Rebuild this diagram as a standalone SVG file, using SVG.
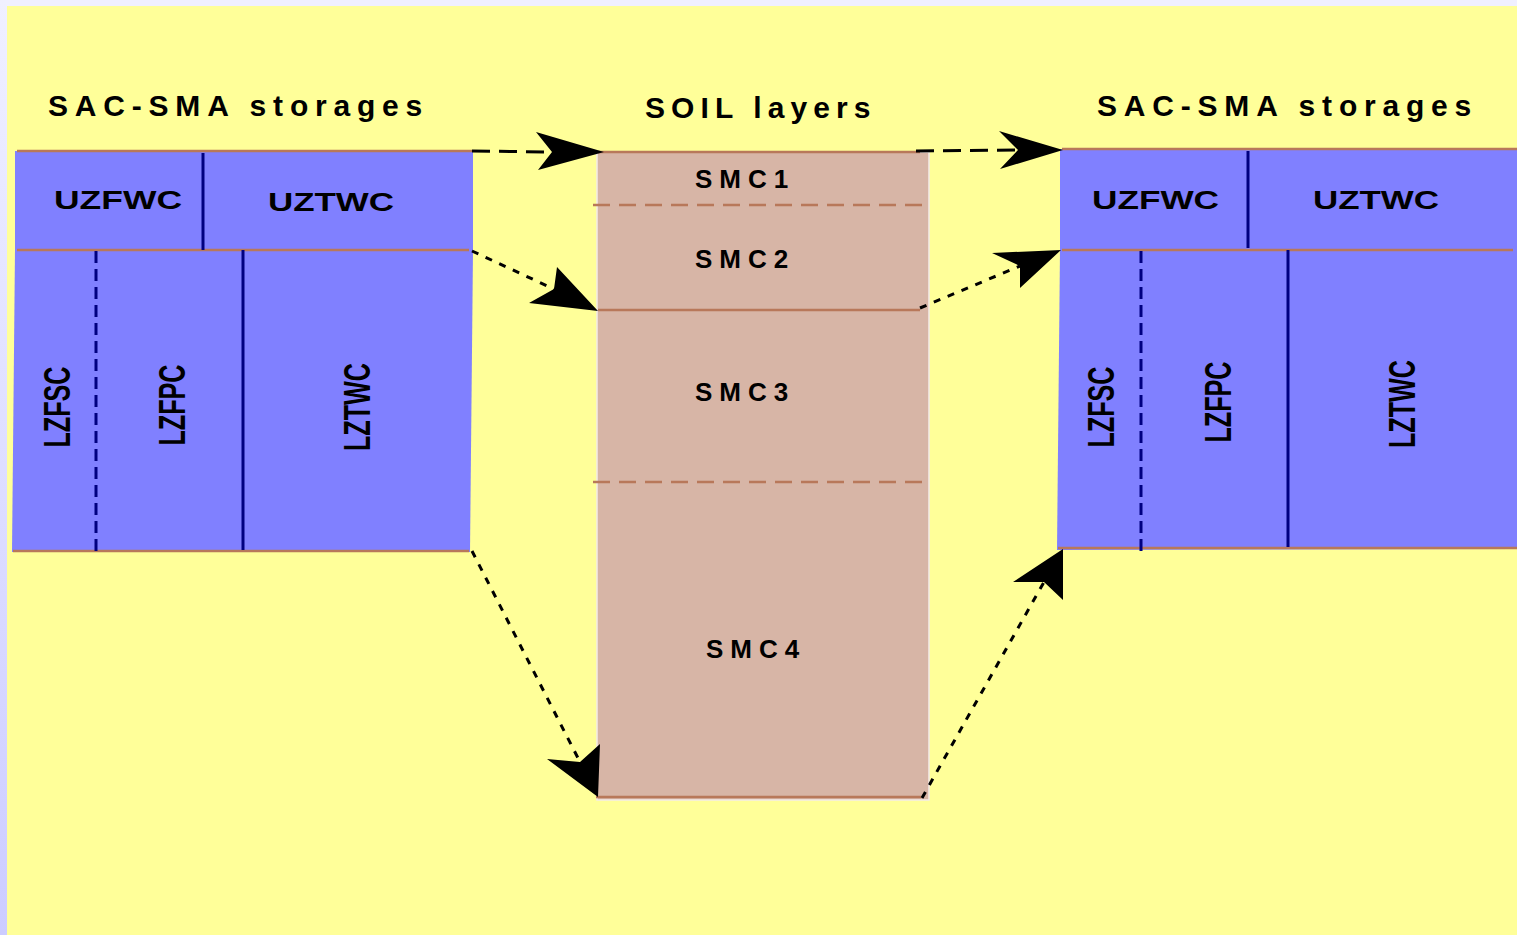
<svg xmlns="http://www.w3.org/2000/svg" width="1517" height="935" viewBox="0 0 1517 935">
  <style>
    .title { font-family: "Liberation Sans", Arial, sans-serif; font-weight: bold; font-size: 30px; fill: #000; }
    .smc { font-family: "Liberation Sans", Arial, sans-serif; font-weight: bold; font-size: 26px; fill: #000; letter-spacing: 7px; }
    .uz { font-family: "Liberation Sans", Arial, sans-serif; font-weight: bold; font-size: 26px; fill: #000; }
    .lz { font-family: "Liberation Sans", Arial, sans-serif; font-weight: bold; font-size: 37px; fill: #000; }
    .store { fill: #8080ff; }
    .soil { fill: #d7b5a6; stroke: #f4ece8; stroke-width: 1.5; }
    .rim { stroke: #b8785a; stroke-width: 2.5; fill: none; }
    .rimdash { stroke: #b8785a; stroke-width: 2.5; fill: none; stroke-dasharray: 17 9; }
    .wall { stroke: #000080; stroke-width: 3; fill: none; }
    .walldash { stroke: #000080; stroke-width: 3; fill: none; stroke-dasharray: 12 6; }
    .flow { stroke: #000; stroke-width: 3; fill: none; stroke-dasharray: 18 9; }
    .seep { stroke: #000; stroke-width: 3; fill: none; stroke-dasharray: 7 8; }
    .head { fill: #000; }
  </style>
  <defs>
    <linearGradient id="edge" x1="0" y1="0" x2="0" y2="1">
      <stop offset="0" stop-color="#f0f0ff"/>
      <stop offset="1" stop-color="#ccccff"/>
    </linearGradient>
  </defs>

  <!-- page background -->
  <rect x="0" y="0" width="1517" height="935" fill="#f0f0ff"/>
  <rect x="0" y="0" width="7" height="935" fill="url(#edge)"/>
  <rect x="7" y="6" width="1510" height="929" fill="#ffff99"/>

  <!-- headings -->
  <text class="title" x="48" y="116" letter-spacing="6.8">SAC-SMA storages</text>
  <text class="title" x="645" y="118" letter-spacing="6.1">SOIL layers</text>
  <text class="title" x="1097" y="116" letter-spacing="6.8">SAC-SMA storages</text>

  <!-- left storage block -->
  <g id="storage-left">
    <rect class="store" x="15" y="151" width="458" height="100"/>
    <polygon class="store" points="15,250 473,250 470,552 12,552"/>
    <line class="rim" x1="17" y1="151" x2="472" y2="151"/>
    <line class="rim" x1="17" y1="250" x2="469" y2="250"/>
    <line class="rim" x1="13" y1="551" x2="469" y2="551"/>
    <line class="wall" x1="203" y1="153" x2="203" y2="250"/>
    <line class="walldash" x1="96" y1="251" x2="96" y2="553"/>
    <line class="wall" x1="243" y1="250" x2="243" y2="550"/>
    <text class="uz" x="54" y="209" textLength="128" lengthAdjust="spacingAndGlyphs">UZFWC</text>
    <text class="uz" x="268" y="211" textLength="126" lengthAdjust="spacingAndGlyphs">UZTWC</text>
    <text class="lz" transform="translate(70,407) rotate(-90)" text-anchor="middle" textLength="81" lengthAdjust="spacingAndGlyphs">LZFSC</text>
    <text class="lz" transform="translate(185,405) rotate(-90)" text-anchor="middle" textLength="81" lengthAdjust="spacingAndGlyphs">LZFPC</text>
    <text class="lz" transform="translate(370,407) rotate(-90)" text-anchor="middle" textLength="88" lengthAdjust="spacingAndGlyphs">LZTWC</text>
  </g>

  <!-- soil column -->
  <g id="soil-layers">
    <rect class="soil" x="597" y="152" width="332" height="648"/>
    <line class="rim" x1="598" y1="152" x2="920" y2="152"/>
    <line class="rimdash" x1="593" y1="205" x2="923" y2="205"/>
    <line class="rim" x1="598" y1="310" x2="920" y2="310"/>
    <line class="rimdash" x1="593" y1="482" x2="923" y2="482"/>
    <line class="rim" x1="596" y1="797" x2="921" y2="797"/>
    <text class="smc" x="695" y="188">SMC1</text>
    <text class="smc" x="695" y="268">SMC2</text>
    <text class="smc" x="695" y="401">SMC3</text>
    <text class="smc" x="706" y="658">SMC4</text>
  </g>

  <!-- right storage block -->
  <g id="storage-right">
    <rect class="store" x="1060" y="149" width="457" height="102"/>
    <polygon class="store" points="1060,250 1517,250 1517,549 1057,550"/>
    <line class="rim" x1="1062" y1="149" x2="1517" y2="149"/>
    <line class="rim" x1="1062" y1="250" x2="1513" y2="250"/>
    <line class="rim" x1="1058" y1="548" x2="1517" y2="548"/>
    <line class="wall" x1="1248" y1="151" x2="1248" y2="248"/>
    <line class="walldash" x1="1141" y1="251" x2="1141" y2="551"/>
    <line class="wall" x1="1288" y1="250" x2="1288" y2="547"/>
    <text class="uz" x="1092" y="209" textLength="127" lengthAdjust="spacingAndGlyphs">UZFWC</text>
    <text class="uz" x="1313" y="209" textLength="126" lengthAdjust="spacingAndGlyphs">UZTWC</text>
    <text class="lz" transform="translate(1114,407) rotate(-90)" text-anchor="middle" textLength="81" lengthAdjust="spacingAndGlyphs">LZFSC</text>
    <text class="lz" transform="translate(1231,402) rotate(-90)" text-anchor="middle" textLength="81" lengthAdjust="spacingAndGlyphs">LZFPC</text>
    <text class="lz" transform="translate(1415,404) rotate(-90)" text-anchor="middle" textLength="88" lengthAdjust="spacingAndGlyphs">LZTWC</text>
  </g>

  <!-- transfers between storages and soil layers -->
  <g id="connectors">
    <line class="flow" x1="472" y1="151" x2="554" y2="152"/>
    <polygon class="head" points="604,152 536,132 552,152 538,170"/>

    <line class="flow" x1="916" y1="151" x2="1020" y2="150"/>
    <polygon class="head" points="1063,150 999,131 1018,150 1000,169"/>

    <line class="seep" x1="472" y1="251" x2="556" y2="290"/>
    <polygon class="head" points="598,311 557,267 554,289 529,303"/>

    <line class="seep" x1="920" y1="308" x2="1020" y2="266"/>
    <polygon class="head" points="1061,250 992,253 1020,266 1020,288"/>

    <line class="seep" x1="472" y1="551" x2="580" y2="762"/>
    <polygon class="head" points="598,797 600,744 580,762 547,759"/>

    <line class="seep" x1="922" y1="798" x2="1044" y2="582"/>
    <polygon class="head" points="1063,549 1013,582 1044,582 1063,600"/>
  </g>
</svg>
